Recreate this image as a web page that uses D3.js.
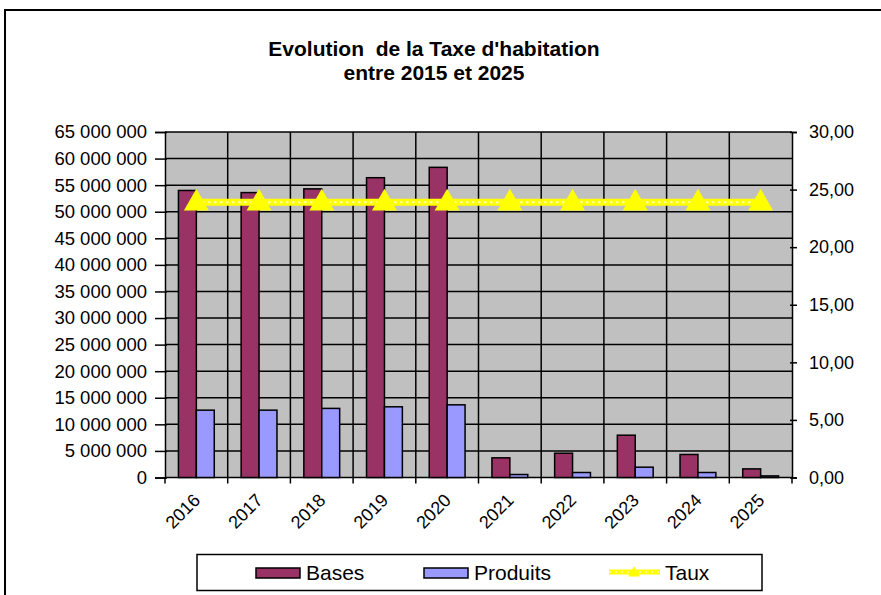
<!DOCTYPE html>
<html>
<head>
<meta charset="utf-8">
<script src="https://cdn.jsdelivr.net/npm/d3@7"></script>
<style>
  body { margin: 0; background: #fff; }
  svg { display: block; font-family: Arial, "Liberation Sans", sans-serif; }
</style>
</head>
<body>
<svg width="881" height="595"></svg>
<script>
// données
const years = ["2016", "2017", "2018", "2019", "2020", "2021", "2022", "2023", "2024", "2025"];
const bases = [54000000, 53600000, 54300000, 56400000, 58350000, 3700000, 4570000, 7960000, 4330000, 1620000];
const produits = [12670000, 12670000, 13000000, 13300000, 13670000, 560000, 940000, 1940000, 940000, 300000];
const taux = [23.9, 23.9, 23.9, 23.9, 23.9, 23.9, 23.9, 23.9, 23.9, 23.9];
const leftTicks = d3.range(0, 65000001, 5000000);
const rightTicks = d3.range(0, 31, 5);

const svg = d3.select("svg");
const m = { left: 165, right: 792, top: 132, bottom: 477.5 };

// cadre extérieur
svg.append("rect")
  .attr("x", 5).attr("y", 10).attr("width", 900).attr("height", 600)
  .attr("fill", "#fff").attr("stroke", "#000").attr("stroke-width", 2);

// titre
const title = svg.append("text")
  .attr("text-anchor", "middle")
  .attr("font-weight", "bold")
  .attr("font-size", 21)
  .style("white-space", "pre");
title.append("tspan").attr("x", 434).attr("y", 56).text("Evolution  de la Taxe d'habitation");
title.append("tspan").attr("x", 434).attr("y", 80).text("entre 2015 et 2025");

const x = d3.scaleBand().domain(years).range([m.left, m.right]);
const yL = d3.scaleLinear().domain([0, 65000000]).range([m.bottom, m.top]);
const yR = d3.scaleLinear().domain([0, 30]).range([m.bottom, m.top]);
const bw = x.bandwidth() / 3.5;

// fond gris
svg.append("rect")
  .attr("x", m.left).attr("y", m.top)
  .attr("width", m.right - m.left).attr("height", m.bottom - m.top)
  .attr("fill", "#c0c0c0");

// quadrillage
svg.append("g").selectAll("line").data(leftTicks).join("line")
  .attr("x1", m.left).attr("x2", m.right)
  .attr("y1", d => yL(d)).attr("y2", d => yL(d))
  .attr("stroke", "#000").attr("stroke-width", 1.5);
svg.append("g").selectAll("line").data(years.slice(1)).join("line")
  .attr("x1", d => x(d)).attr("x2", d => x(d))
  .attr("y1", m.top).attr("y2", m.bottom)
  .attr("stroke", "#000").attr("stroke-width", 1.5);

// barres
svg.append("g").selectAll("rect").data(bases).join("rect")
  .attr("x", (d, i) => x(years[i]) + bw * 0.75)
  .attr("y", d => yL(d))
  .attr("width", bw).attr("height", d => yL(0) - yL(d))
  .attr("fill", "#993366").attr("stroke", "#000").attr("stroke-width", 1.5);
svg.append("g").selectAll("rect").data(produits).join("rect")
  .attr("x", (d, i) => x(years[i]) + bw * 1.75)
  .attr("y", d => yL(d))
  .attr("width", bw).attr("height", d => yL(0) - yL(d))
  .attr("fill", "#9999ff").attr("stroke", "#000").attr("stroke-width", 1.5);

// axes
const axL = svg.append("g").attr("transform", `translate(${m.left},0)`)
  .call(d3.axisLeft(yL).tickValues(leftTicks).tickSize(10).tickPadding(8)
    .tickFormat(d => d3.format(",")(d).replace(/,/g, " ")));
const axR = svg.append("g").attr("transform", `translate(${m.right},0)`)
  .call(d3.axisRight(yR).tickValues(rightTicks).tickSize(5).tickPadding(12)
    .tickFormat(d => d3.format(".2f")(d).replace(".", ",")));
const axB = svg.append("g").attr("transform", `translate(0,${m.bottom})`)
  .call(d3.axisBottom(x).tickSize(0).tickPadding(14));
// graduations entre catégories
svg.append("g").selectAll("line").data(years.concat(["end"])).join("line")
  .attr("x1", (d, i) => m.left + i * x.step()).attr("x2", (d, i) => m.left + i * x.step())
  .attr("y1", m.bottom).attr("y2", m.bottom + 6)
  .attr("stroke", "#000").attr("stroke-width", 1.5);

[axL, axR, axB].forEach(g => {
  g.select(".domain").attr("stroke", "#000").attr("stroke-width", 1.5);
  g.selectAll(".tick line").attr("stroke", "#000").attr("stroke-width", 1.5);
  g.selectAll("text").attr("fill", "#000").attr("font-family", "Arial, 'Liberation Sans', sans-serif");
});
axL.selectAll("text").attr("font-size", 18.5);
axR.selectAll("text").attr("font-size", 18);
axB.selectAll("text").attr("font-size", 18);
axL.selectAll(".tick line").attr("x2", -10).attr("x1", 2);
axR.selectAll(".tick line").attr("x1", -2);
axB.select(".domain").remove();
axB.selectAll(".tick text")
  .attr("text-anchor", "end")
  .attr("dy", 0)
  .attr("transform", "translate(-5,14) rotate(-45)");

// ligne Taux
const cx = d => x(d) + x.bandwidth() / 2;
const line = d3.line().x((d, i) => cx(years[i])).y(d => yR(d));
svg.append("path").datum(taux).attr("d", line)
  .attr("fill", "none").attr("stroke", "#ffff00").attr("stroke-width", 7);
svg.append("path").datum(taux).attr("d", line)
  .attr("fill", "none").attr("stroke", "#fff").attr("stroke-width", 2)
  .attr("stroke-dasharray", "2,4");
const tri = d3.symbol().type(d3.symbolTriangle).size(270);
svg.append("g").selectAll("path").data(taux).join("path")
  .attr("d", tri)
  .attr("transform", (d, i) => `translate(${cx(years[i])},${yR(d) + 1})`)
  .attr("fill", "#ffff00");

// légende
const lg = svg.append("g");
lg.append("rect").attr("x", 197).attr("y", 554.5).attr("width", 565).attr("height", 36)
  .attr("fill", "#fff").attr("stroke", "#000").attr("stroke-width", 1.5);
const items = [
  { name: "Bases", color: "#993366", x: 256, type: "bar" },
  { name: "Produits", color: "#9999ff", x: 424, type: "bar" },
  { name: "Taux", color: "#ffff00", x: 609, type: "line" }
];
items.forEach(it => {
  if (it.type === "bar") {
    lg.append("rect").attr("x", it.x).attr("y", 568).attr("width", 44).attr("height", 10)
      .attr("fill", it.color).attr("stroke", "#000").attr("stroke-width", 1.5);
  } else {
    lg.append("line").attr("x1", it.x).attr("x2", it.x + 51).attr("y1", 572).attr("y2", 572)
      .attr("stroke", it.color).attr("stroke-width", 5);
    lg.append("line").attr("x1", it.x).attr("x2", it.x + 51).attr("y1", 572).attr("y2", 572)
      .attr("stroke", "#fff").attr("stroke-width", 1.2).attr("stroke-dasharray", "2,4");
    lg.append("path").attr("d", d3.symbol().type(d3.symbolTriangle).size(60))
      .attr("transform", `translate(${it.x + 25},573)`).attr("fill", it.color);
  }
  lg.append("text").attr("x", it.x + (it.type === "bar" ? 50 : 56)).attr("y", 580)
    .attr("font-size", 21).text(it.name);
});
</script>
</body>
</html>
